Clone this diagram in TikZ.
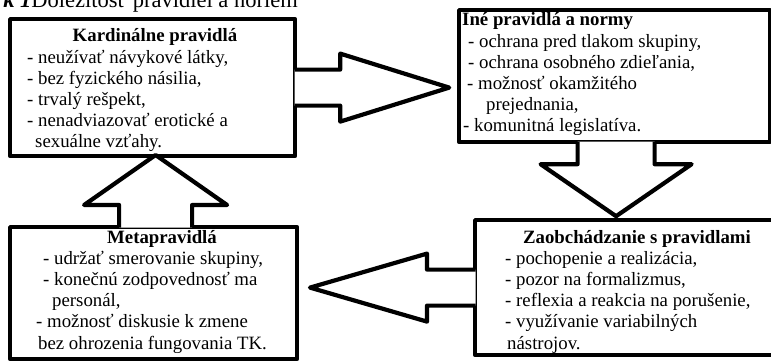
\documentclass[tikz,border=0pt]{standalone}
\usepackage{fontspec}
\setmainfont{Liberation Serif}
\usetikzlibrary{calc}
\newcommand\bodysize{\fontsize{18.8}{21}\selectfont}

\begin{document}
\begin{tikzpicture}[x=1pt, y=-1pt,
  box/.style={rectangle, draw, fill=white, line width=4.2pt, line join=round, inner sep=0pt, anchor=north west},
  blockarrow/.style={draw, fill=white, line width=4.2pt, line join=round},
  boxhead/.style={font=\bodysize\bfseries, inner sep=0pt, anchor=base},
  boxitem/.style={font=\bodysize, inner sep=0pt, anchor=base west},
]
\useasboundingbox (0,0) rectangle (771,360);
\fill[white] (0,0) rectangle (771,360);

% caption, cut by the top edge
\node[font=\fontsize{22.5}{26}\selectfont, inner sep=0pt, anchor=base east] (caption) at (298,7) {\textbf{\textit{k 1}}Dôležitosť pravidiel a noriem};

% --- Boxes ---
\node[box, minimum width=285pt, minimum height=137pt] (kard) at (8,17) {};
\node[box, minimum width=311pt, minimum height=132pt] (ine) at (457,8) {};
\node[box, minimum width=305pt, minimum height=135pt] (zaob) at (473,218) {};
\node[box, minimum width=287pt, minimum height=132pt] (meta) at (8,225) {};

% --- Block arrows (open at the box side) ---
% kard -> ine
\path[blockarrow] ($(kard.east)+(-2.5,-18)$) -- ++(45.5,0) -- ++(0,-16) -- ++(109,34)
  -- ++(-109,34) -- ++(0,-16) -- ++(-45.5,0);
% ine -> zaob
\path[blockarrow] ($(ine.south)+(-37,-2.5)$) -- ++(0,22.5) -- ++(-37,0) -- ++(75.5,52)
  -- ++(75.5,-52) -- ++(-37,0) -- ++(0,-22.5);
% zaob -> meta
\path[blockarrow] ($(zaob.west)+(2.5,-18)$) -- ++(-48.5,0) -- ++(0,-16) -- ++(-117,34)
  -- ++(117,34) -- ++(0,-16) -- ++(48.5,0);
% meta -> kard
\path[blockarrow] ($(meta.north)+(-34.5,2.5)$) -- ++(0,-22.5) -- ++(-35,0) -- ++(71.5,-50)
  -- ++(71.5,50) -- ++(-35,0) -- ++(0,22.5);

% --- Kardinálne pravidlá ---
\node[boxhead] (kardHead) at (155,41) {Kardinálne pravidlá};
\foreach \x/\y/\txt [count=\i] in {27/63/{- neužívať návykové látky,}, 27/84/{- bez fyzického násilia,},
    27/105/{- trvalý rešpekt,}, 27/126/{- nenadviazovať erotické a}, 35/147/{sexuálne vzťahy.}}
  \node[boxitem] (kard\i) at (\x,\y) {\txt};

% --- Iné pravidlá a normy ---
\node[boxhead, anchor=base west] (ineHead) at (462,25) {Iné pravidlá a normy};
\foreach \x/\y/\txt [count=\i] in {468/47/{- ochrana pred tlakom skupiny,}, 468/68/{- ochrana osobného zdieľania,},
    467/89/{- možnosť okamžitého}, 486/110/{prejednania,}, 463/131/{- komunitná legislatíva.}}
  \node[boxitem] (ine\i) at (\x,\y) {\txt};

% --- Zaobchádzanie s pravidlami ---
\node[boxhead] (zaobHead) at (637,243) {Zaobchádzanie s pravidlami};
\foreach \x/\y/\txt [count=\i] in {505/264/{- pochopenie a realizácia,}, 505/285/{- pozor na formalizmus,},
    505/306/{- reflexia a reakcia na porušenie,}, 505/327/{- využívanie variabilných}, 507/349/{nástrojov.}}
  \node[boxitem] (zaob\i) at (\x,\y) {\txt};

% --- Metapravidlá ---
\node[boxhead] (metaHead) at (162,243) {Metapravidlá};
\foreach \x/\y/\txt [count=\i] in {43/264/{- udržať smerovanie skupiny,}, 43/285/{- konečnú zodpovednosť ma},
    52/306/{personál,}, 36/327/{- možnosť diskusie k zmene}, 38/349/{bez ohrozenia fungovania TK.}}
  \node[boxitem] (meta\i) at (\x,\y) {\txt};

\end{tikzpicture}
\end{document}
